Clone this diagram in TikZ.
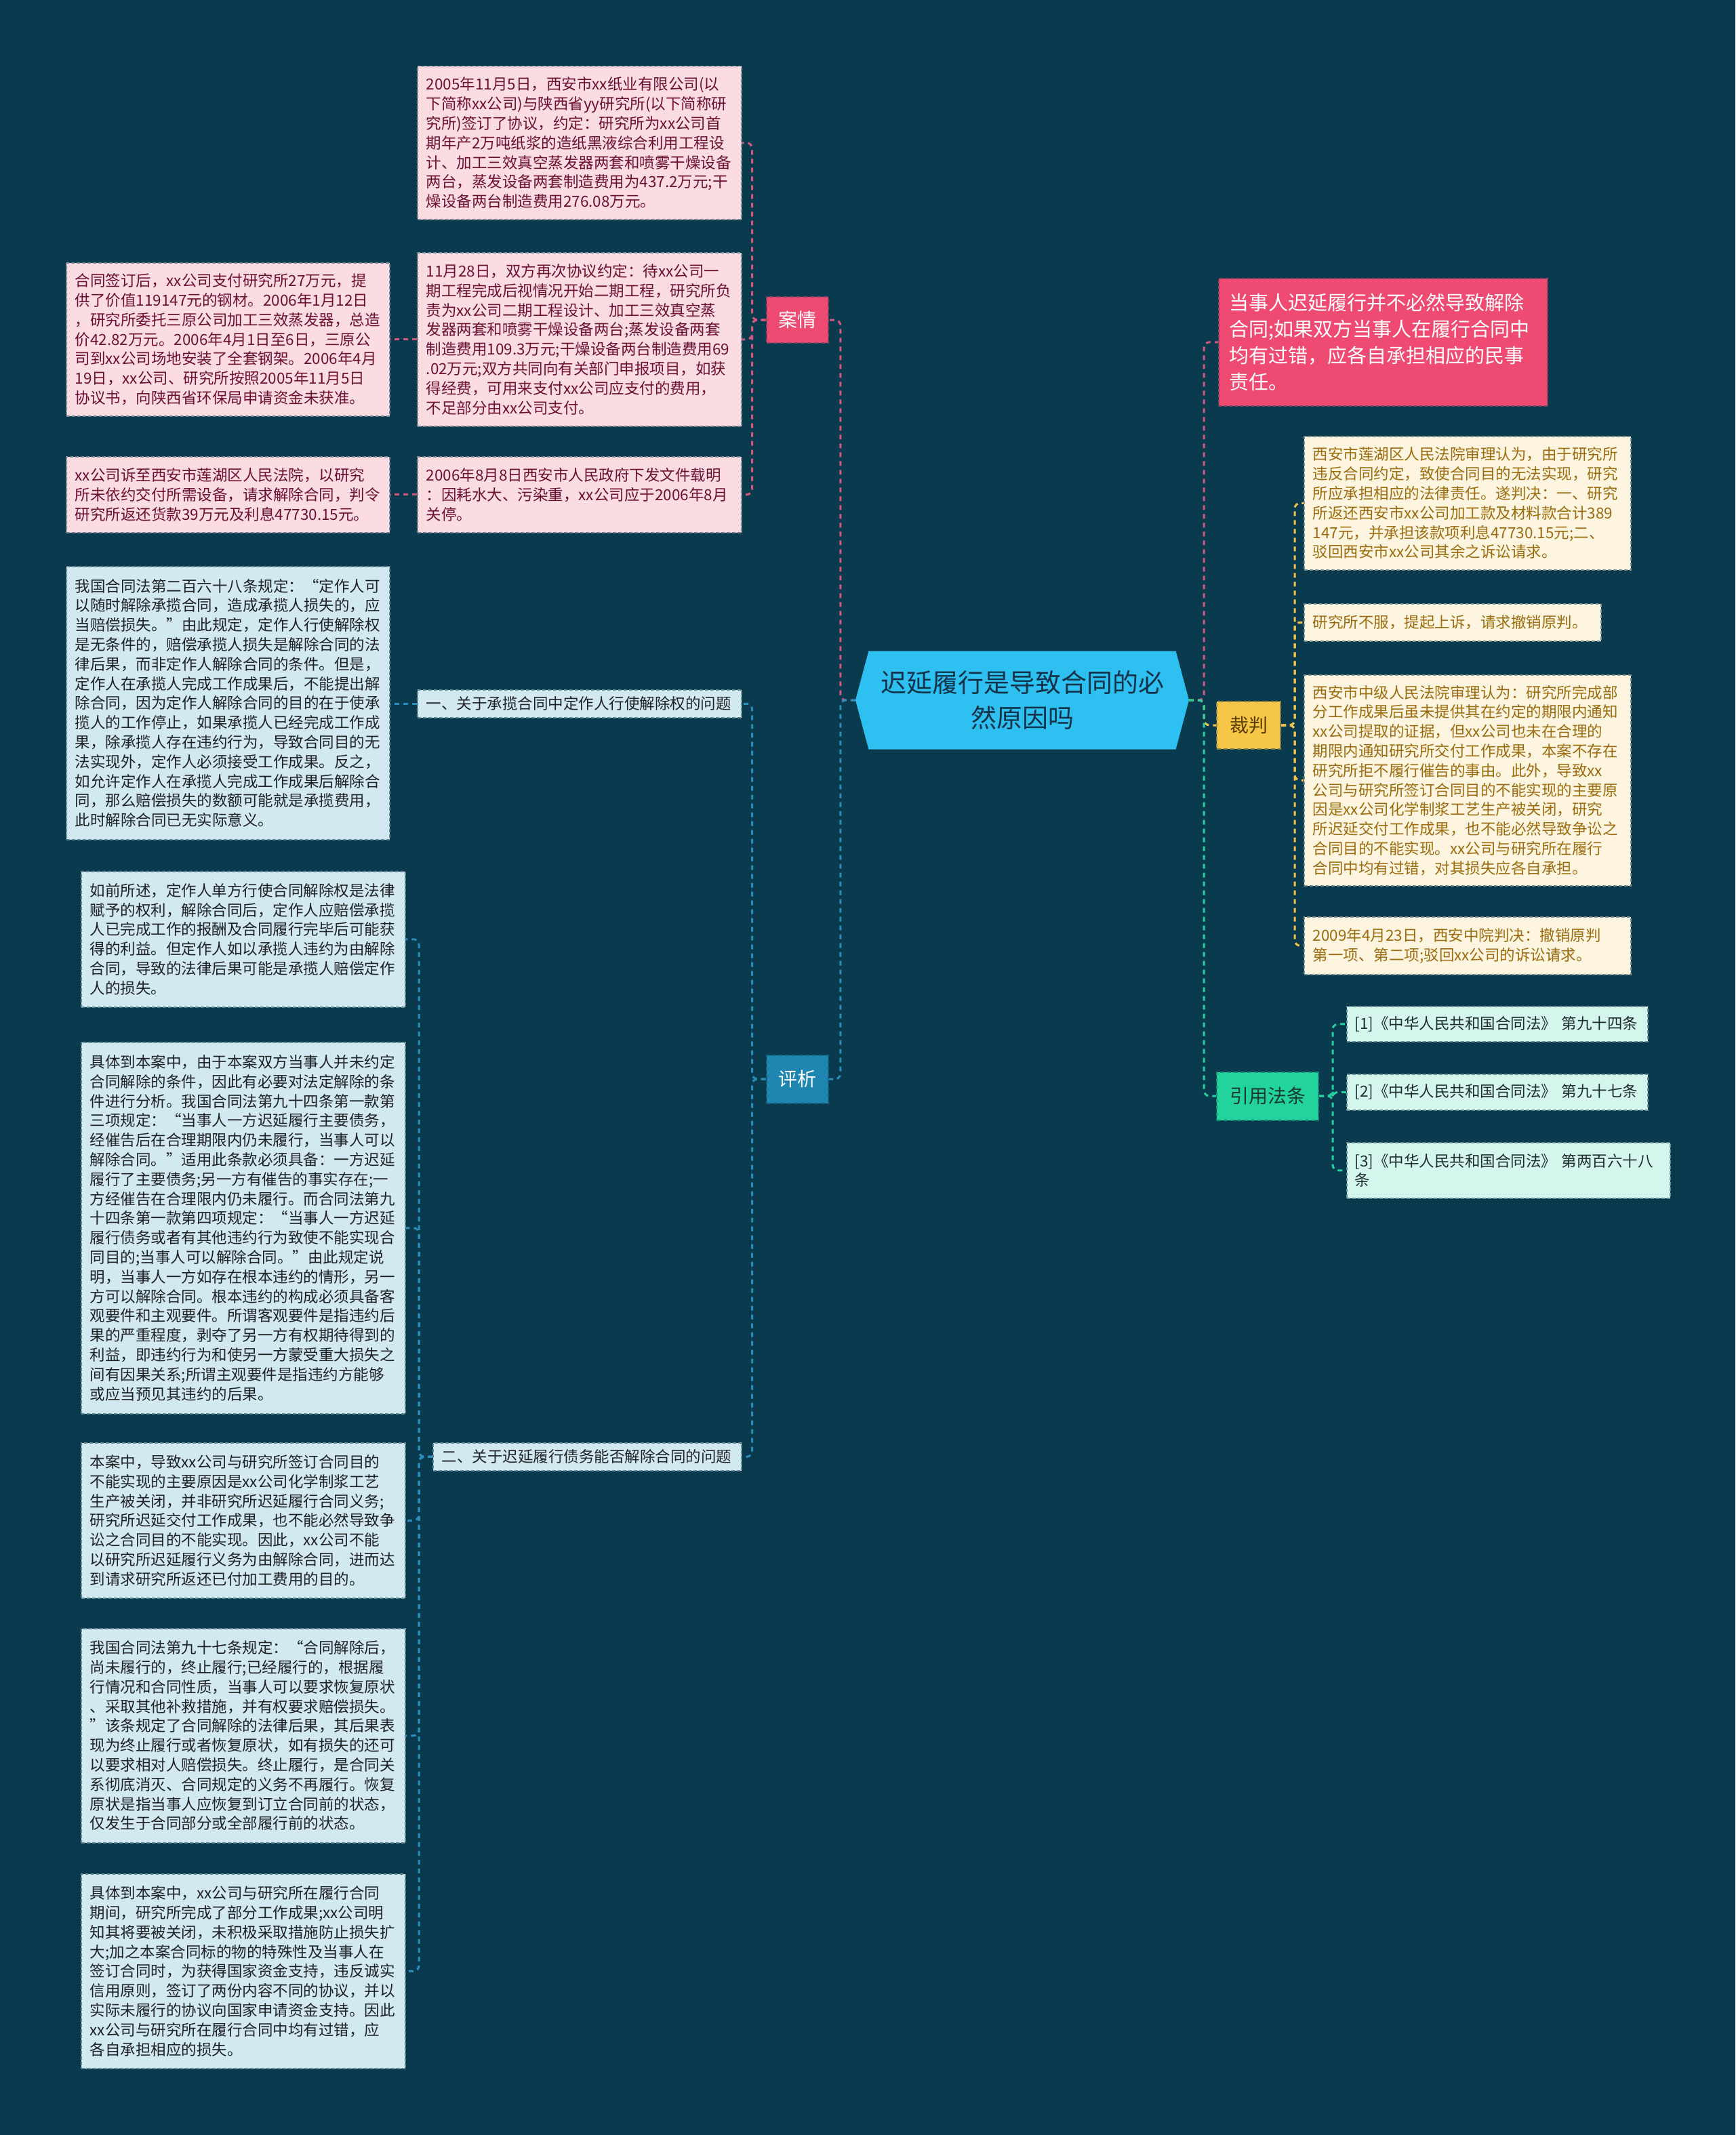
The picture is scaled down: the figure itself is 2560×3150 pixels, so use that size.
\documentclass[tikz,border=0pt]{standalone}
\usepackage{fontspec}
\setmainfont{Noto Sans CJK SC}
\usetikzlibrary{shapes.symbols}
\definecolor{bg}{HTML}{0A3A4D}
\definecolor{pinkfill}{HTML}{FBDCE2}
\definecolor{pinktext}{HTML}{6B1030}
\definecolor{pinkline}{HTML}{D3577F}
\definecolor{bluefill}{HTML}{D3E9F1}
\definecolor{bluetext}{HTML}{1E2226}
\definecolor{blueline}{HTML}{2A8DBA}
\definecolor{yelfill}{HTML}{FDF5DF}
\definecolor{yeltext}{HTML}{9B6C10}
\definecolor{yelline}{HTML}{F2C44C}
\definecolor{grnfill}{HTML}{D5F6ED}
\definecolor{grntext}{HTML}{1E2B30}
\definecolor{grnline}{HTML}{27CFA0}
\definecolor{centerc}{HTML}{2EC0F0}
\definecolor{centertext}{HTML}{12324A}
\definecolor{aqc}{HTML}{EE4A72}
\definecolor{pxc}{HTML}{1F86B2}
\definecolor{cpc}{HTML}{F6C646}
\definecolor{cptext}{HTML}{5A3D00}
\definecolor{yfc}{HTML}{22D39E}
\definecolor{yftext}{HTML}{163A30}
\tikzset{
  leaf/.style={anchor=north west, inner xsep=13pt, inner ysep=0pt, align=left,
    font=\fontsize{22.5pt}{28.8pt}\selectfont, line width=1.5pt, dash pattern=on 5pt off 3pt},
  pinkbox/.style={leaf, fill=pinkfill, draw=bg!55!pinkfill, text=pinktext},
  bluebox/.style={leaf, fill=bluefill, draw=bg!55!bluefill, text=bluetext},
  yelbox/.style={leaf, fill=yelfill, draw=bg!55!yelfill, text=yeltext},
  grnbox/.style={leaf, inner xsep=12pt, fill=grnfill, draw=bg!55!grnfill, text=grntext},
  branch/.style={inner sep=0pt, align=center, font=\fontsize{28pt}{34pt}\selectfont,
    line width=2pt, dash pattern=on 6pt off 4pt},
  conn/.style={line width=3pt, dash pattern=on 7pt off 6pt, rounded corners=8pt},
}
\begin{document}
\begin{tikzpicture}[x=1pt,y=-1pt]
\fill[bg] (0,0) rectangle (2560,3150);
\useasboundingbox (0,0) rectangle (2560,3150);

% center
\node[signal, signal to=west and east, signal pointer angle=150, fill=centerc,
  minimum width=492pt, minimum height=145pt, inner sep=0pt, align=center,
  text=centertext, font=\fontsize{38pt}{52pt}\selectfont] (c) at (1508,1033)
  {迟延履行是导致合同的必\\然原因吗};

% main branches
\node[branch, fill=aqc, draw=bg!45!aqc, text=white, minimum width=91pt, minimum height=68pt] (aq) at (1176,472) {案情};
\node[branch, fill=pxc, draw=bg!45!pxc, text=white, minimum width=91pt, minimum height=71pt] (px) at (1176,1592) {评析};
\node[branch, fill=cpc, draw=bg!45!cpc, text=cptext, minimum width=94pt, minimum height=70pt] (cp) at (1842,1070) {裁判};
\node[branch, fill=yfc, draw=bg!45!yfc, text=yftext, minimum width=150pt, minimum height=71pt] (yf) at (1870,1617) {引用法条};
\node[leaf, inner xsep=16pt, fill=aqc, draw=bg!45!aqc, text=white, font=\fontsize{29pt}{39pt}\selectfont,
  minimum width=485pt, minimum height=188pt, text width=453pt] (red) at (1797,410)
  {当事人迟延履行并不必然导致解除\\合同;如果双方当事人在履行合同中\\均有过错，应各自承担相应的民事\\责任。};

% 案情 leaves
\node[pinkbox, minimum width=478pt, minimum height=226pt, text width=452pt] (A) at (615,97)
  {2005年11月5日，西安市xx纸业有限公司(以\\下简称xx公司)与陕西省yy研究所(以下简称研\\究所)签订了协议，约定：研究所为xx公司首\\期年产2万吨纸浆的造纸黑液综合利用工程设\\计、加工三效真空蒸发器两套和喷雾干燥设备\\两台，蒸发设备两套制造费用为437.2万元;干\\燥设备两台制造费用276.08万元。};
\node[pinkbox, minimum width=478pt, minimum height=256pt, text width=452pt] (B) at (615,372)
  {11月28日，双方再次协议约定：待xx公司一\\期工程完成后视情况开始二期工程，研究所负\\责为xx公司二期工程设计、加工三效真空蒸\\发器两套和喷雾干燥设备两台;蒸发设备两套\\制造费用109.3万元;干燥设备两台制造费用69\\.02万元;双方共同向有关部门申报项目，如获\\得经费，可用来支付xx公司应支付的费用，\\不足部分由xx公司支付。};
\node[pinkbox, minimum width=477pt, minimum height=226pt, text width=451pt] (C) at (97,387)
  {合同签订后，xx公司支付研究所27万元，提\\供了价值119147元的钢材。2006年1月12日\\，研究所委托三原公司加工三效蒸发器，总造\\价42.82万元。2006年4月1日至6日，三原公\\司到xx公司场地安装了全套钢架。2006年4月\\19日，xx公司、研究所按照2005年11月5日\\协议书，向陕西省环保局申请资金未获准。};
\node[pinkbox, minimum width=477pt, minimum height=112pt, text width=451pt] (D) at (97,673)
  {xx公司诉至西安市莲湖区人民法院，以研究\\所未依约交付所需设备，请求解除合同，判令\\研究所返还货款39万元及利息47730.15元。};
\node[pinkbox, minimum width=478pt, minimum height=112pt, text width=452pt] (E) at (615,673)
  {2006年8月8日西安市人民政府下发文件载明\\：因耗水大、污染重，xx公司应于2006年8月\\关停。};

% 评析 leaves
\node[bluebox, minimum width=478pt, minimum height=41pt, text width=452pt] (P1) at (615,1017)
  {一、关于承揽合同中定作人行使解除权的问题};
\node[bluebox, minimum width=455pt, minimum height=41pt, text width=429pt] (P2) at (638,2128)
  {二、关于迟延履行债务能否解除合同的问题};
\node[bluebox, minimum width=477pt, minimum height=403pt, text width=451pt] (F) at (97,835)
  {我国合同法第二百六十八条规定：“定作人可\\以随时解除承揽合同，造成承揽人损失的，应\\当赔偿损失。”由此规定，定作人行使解除权\\是无条件的，赔偿承揽人损失是解除合同的法\\律后果，而非定作人解除合同的条件。但是，\\定作人在承揽人完成工作成果后，不能提出解\\除合同，因为定作人解除合同的目的在于使承\\揽人的工作停止，如果承揽人已经完成工作成\\果，除承揽人存在违约行为，导致合同目的无\\法实现外，定作人必须接受工作成果。反之，\\如允许定作人在承揽人完成工作成果后解除合\\同，那么赔偿损失的数额可能就是承揽费用，\\此时解除合同已无实际意义。};
\node[bluebox, minimum width=478pt, minimum height=200pt, text width=452pt] (G) at (119,1285)
  {如前所述，定作人单方行使合同解除权是法律\\赋予的权利，解除合同后，定作人应赔偿承揽\\人已完成工作的报酬及合同履行完毕后可能获\\得的利益。但定作人如以承揽人违约为由解除\\合同，导致的法律后果可能是承揽人赔偿定作\\人的损失。};
\node[bluebox, minimum width=478pt, minimum height=548pt, text width=452pt] (H) at (119,1537)
  {具体到本案中，由于本案双方当事人并未约定\\合同解除的条件，因此有必要对法定解除的条\\件进行分析。我国合同法第九十四条第一款第\\三项规定：“当事人一方迟延履行主要债务，\\经催告后在合理期限内仍未履行，当事人可以\\解除合同。”适用此条款必须具备：一方迟延\\履行了主要债务;另一方有催告的事实存在;一\\方经催告在合理限内仍未履行。而合同法第九\\十四条第一款第四项规定：“当事人一方迟延\\履行债务或者有其他违约行为致使不能实现合\\同目的;当事人可以解除合同。”由此规定说\\明，当事人一方如存在根本违约的情形，另一\\方可以解除合同。根本违约的构成必须具备客\\观要件和主观要件。所谓客观要件是指违约后\\果的严重程度，剥夺了另一方有权期待得到的\\利益，即违约行为和使另一方蒙受重大损失之\\间有因果关系;所谓主观要件是指违约方能够\\或应当预见其违约的后果。};
\node[bluebox, minimum width=478pt, minimum height=229pt, text width=452pt] (I) at (119,2128)
  {本案中，导致xx公司与研究所签订合同目的\\不能实现的主要原因是xx公司化学制浆工艺\\生产被关闭，并非研究所迟延履行合同义务;\\研究所迟延交付工作成果，也不能必然导致争\\讼之合同目的不能实现。因此，xx公司不能\\以研究所迟延履行义务为由解除合同，进而达\\到请求研究所返还已付加工费用的目的。};
\node[bluebox, minimum width=478pt, minimum height=316pt, text width=452pt] (J) at (119,2402)
  {我国合同法第九十七条规定：“合同解除后，\\尚未履行的，终止履行;已经履行的，根据履\\行情况和合同性质，当事人可以要求恢复原状\\、采取其他补救措施，并有权要求赔偿损失。\\”该条规定了合同解除的法律后果，其后果表\\现为终止履行或者恢复原状，如有损失的还可\\以要求相对人赔偿损失。终止履行，是合同关\\系彻底消灭、合同规定的义务不再履行。恢复\\原状是指当事人应恢复到订立合同前的状态，\\仅发生于合同部分或全部履行前的状态。};
\node[bluebox, minimum width=478pt, minimum height=287pt, text width=452pt] (K) at (119,2764)
  {具体到本案中，xx公司与研究所在履行合同\\期间，研究所完成了部分工作成果;xx公司明\\知其将要被关闭，未积极采取措施防止损失扩\\大;加之本案合同标的物的特殊性及当事人在\\签订合同时，为获得国家资金支持，违反诚实\\信用原则，签订了两份内容不同的协议，并以\\实际未履行的协议向国家申请资金支持。因此\\xx公司与研究所在履行合同中均有过错，应\\各自承担相应的损失。};

% 裁判 leaves
\node[yelbox, minimum width=482pt, minimum height=197pt, text width=456pt] (Y1) at (1923,643)
  {西安市莲湖区人民法院审理认为，由于研究所\\违反合同约定，致使合同目的无法实现，研究\\所应承担相应的法律责任。遂判决：一、研究\\所返还西安市xx公司加工款及材料款合计389\\147元，并承担该款项利息47730.15元;二、\\驳回西安市xx公司其余之诉讼请求。};
\node[yelbox, minimum width=438pt, minimum height=55pt, text width=412pt] (Y2) at (1923,890)
  {研究所不服，提起上诉，请求撤销原判。};
\node[yelbox, minimum width=482pt, minimum height=311pt, text width=456pt] (Y3) at (1923,995)
  {西安市中级人民法院审理认为：研究所完成部\\分工作成果后虽未提供其在约定的期限内通知\\xx公司提取的证据，但xx公司也未在合理的\\期限内通知研究所交付工作成果，本案不存在\\研究所拒不履行催告的事由。此外，导致xx\\公司与研究所签订合同目的不能实现的主要原\\因是xx公司化学制浆工艺生产被关闭，研究\\所迟延交付工作成果，也不能必然导致争讼之\\合同目的不能实现。xx公司与研究所在履行\\合同中均有过错，对其损失应各自承担。};
\node[yelbox, minimum width=482pt, minimum height=85pt, text width=456pt] (Y4) at (1923,1352)
  {2009年4月23日，西安中院判决：撤销原判\\第一项、第二项;驳回xx公司的诉讼请求。};

% 引用法条 leaves
\node[grnbox, minimum width=444pt, minimum height=52pt, text width=420pt] (L1) at (1986,1484)
  {[1]《中华人民共和国合同法》 第九十四条};
\node[grnbox, minimum width=444pt, minimum height=53pt, text width=420pt] (L2) at (1986,1584)
  {[2]《中华人民共和国合同法》 第九十七条};
\node[grnbox, minimum width=477pt, minimum height=82pt, text width=453pt] (L3) at (1986,1685)
  {[3]《中华人民共和国合同法》 第两百六十八\\条};

% connectors: center
\draw[conn, pinkline] (c.west) -- ++(-22,0) |- (aq.east);
\draw[conn, blueline] (c.west) -- ++(-22,0) |- (px.east);
\draw[conn, pinkline] (c.east) -- ++(22,0) |- (red.west);
\draw[conn, yelline] (c.east) -- ++(22,0) |- (cp.west);
\draw[conn, grnline] (c.east) -- ++(22,0) |- (yf.west);
% 案情
\foreach \t in {A,B,E} \draw[conn, pinkline] (aq.west) -- ++(-20,0) |- (\t.east);
\draw[conn, pinkline] (B.west) -- (B.west -| C.east);
\draw[conn, pinkline] (E.west) -- (E.west -| D.east);
% 评析
\foreach \t in {P1,P2} \draw[conn, blueline] (px.west) -- ++(-20,0) |- (\t.east);
\draw[conn, blueline] (P1.west) -- (P1.west -| F.east);
\foreach \t in {G,H,I,J,K} \draw[conn, blueline] (P2.west) -- ++(-20,0) |- (\t.east);
% 裁判
\foreach \t in {Y1,Y2,Y3,Y4} \draw[conn, yelline] (cp.east) -- ++(20,0) |- (\t.west);
% 引用法条
\foreach \t in {L1,L2,L3} \draw[conn, grnline] (yf.east) -- ++(20,0) |- (\t.west);
\end{tikzpicture}
\end{document}
